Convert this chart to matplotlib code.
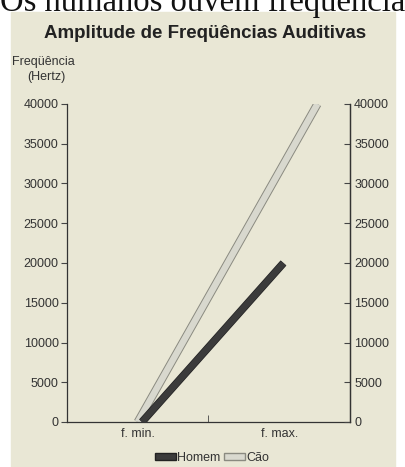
import matplotlib
matplotlib.use("Agg")
import matplotlib.pyplot as plt
import matplotlib.patheffects as pe
from matplotlib.transforms import Affine2D
from matplotlib.patches import Patch

categories = ["f. min.", "f. max."]
homem = [0, 20000]
cao = [0, 40000]
yticks = [0, 5000, 10000, 15000, 20000, 25000, 30000, 35000, 40000]

BG = "#e9e7d5"
plt.rcParams["font.family"] = ["Liberation Sans", "DejaVu Sans"]

fig = plt.figure(figsize=(4.06, 4.67), dpi=100)
fig.patch.set_facecolor("white")
# beige page area
fig.patches.append(matplotlib.patches.Rectangle((11/406, 0), (395-11)/406, (467-12)/467,
                                                transform=fig.transFigure, color=BG, zorder=-10))
# cut-off page text at top
fig.text(0.0, 1 - 11/467, "Os humanos ouvem freqüência", fontsize=23.5,
         family=["Liberation Serif", "DejaVu Serif"], va="baseline", ha="left", color="#111")

ax = fig.add_axes([67/406, 45/467, (350-67)/406, (422-104)/467])
ax.set_facecolor("none")
x = list(range(len(categories)))

# Cão drawn behind with a depth stretch
stretch = Affine2D().scale(1.27, 1.0)
ax.plot(x, cao, color="#d8d8ce", lw=4.6, solid_capstyle="butt", zorder=2,
        transform=stretch + ax.transData,
        path_effects=[pe.Stroke(linewidth=6, foreground="#8a8a80"), pe.Normal()])
ax.plot(x, homem, color="#3b3b3b", lw=4.6, solid_capstyle="butt", zorder=3,
        transform=Affine2D().translate(0.03, 0) + ax.transData,
        path_effects=[pe.Stroke(linewidth=5.6, foreground="#222222"), pe.Normal()])

ax.set_xlim(-0.5, 1.5)
ax.set_ylim(0, 40000)
ax.set_yticks(yticks)
ax.set_yticklabels([str(v) for v in yticks], fontsize=9, color="#333")
ax.set_xticks(x)
ax.set_xticklabels(categories, fontsize=9, color="#333")
ax.set_xticks([0.5], minor=True)
ax.tick_params(axis="x", which="major", length=0, pad=4)
ax.tick_params(axis="x", which="minor", length=5, direction="in", color="#444")
ax.tick_params(axis="y", length=4, direction="out", color="#444", width=0.8, pad=2)
ax.spines["top"].set_visible(False)
for s in ["left", "right", "bottom"]:
    ax.spines[s].set_color("#333")
    ax.spines[s].set_linewidth(0.9)

ax2 = ax.twinx()
ax2.set_ylim(0, 40000)
ax2.set_yticks(yticks)
ax2.set_yticklabels([str(v) for v in yticks], fontsize=9, color="#333")
ax2.tick_params(axis="y", length=4, direction="in", color="#444", width=0.8, pad=3)
for s in ["top", "left", "bottom"]:
    ax2.spines[s].set_visible(False)
ax2.spines["right"].set_color("#333")
ax2.spines["right"].set_linewidth(0.9)

fig.text(205/406, 1 - 33/467, "Amplitude de Freqüências Auditivas", fontsize=13.5,
         fontweight="bold", ha="center", va="center", color="#222")
fig.text(12/406, 1 - 62/467, "Freqüência", fontsize=9, ha="left", va="center", color="#333")
fig.text(46/406, 1 - 77/467, "(Hertz)", fontsize=9, ha="center", va="center", color="#333")

handles = [Patch(facecolor="#3b3b3b", edgecolor="#222"),
           Patch(facecolor="#d9d9cf", edgecolor="#8a8a80")]
fig.legend(handles, ["Homem", "Cão"], loc="center", bbox_to_anchor=(212/406, 1 - 458/467),
           ncol=2, frameon=False, fontsize=9, handlelength=1.7, handleheight=0.55,
           handletextpad=0.1, columnspacing=0.3, labelcolor="#333")

fig.savefig("out.png", dpi=100, facecolor="white")
